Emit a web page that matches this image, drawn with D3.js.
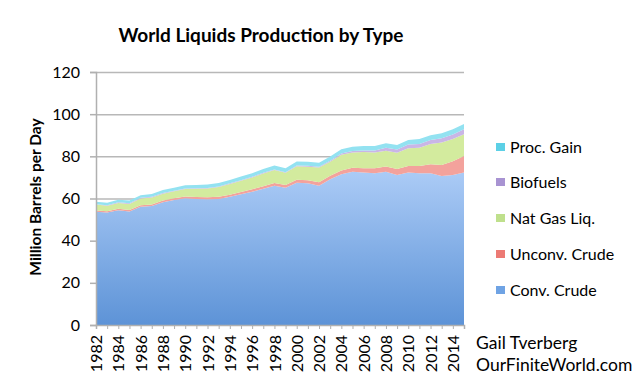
<!DOCTYPE html>
<html>
<head>
<meta charset="utf-8">
<script src="https://cdn.jsdelivr.net/npm/d3@7"></script>
<style>
  body { margin: 0; background: #fff; }
  svg { display: block; font-family: Lato, "Open Sans", sans-serif; }
</style>
</head>
<body>
<svg id="chart" width="640" height="384"></svg>
<script>
// 연도 (1982 ~ 2015)
const years = d3.range(1982, 2016);

// 계열 값 (백만 배럴/일), 그림에서 읽은 값
const convCrude = [53.7, 53.4, 54.4, 53.8, 56.1, 56.4, 58.2, 59.3, 60.1, 59.8, 59.7, 59.8,
  60.8, 62.0, 63.2, 64.6, 66.0, 65.1, 67.5, 67.2, 66.1, 69.1, 71.5, 72.7, 72.3, 72.0,
  72.7, 71.2, 72.3, 72.0, 72.0, 70.7, 71.2, 72.3];
const unconvCrude = [0.6, 0.6, 0.7, 0.7, 0.7, 0.8, 0.8, 0.8, 0.9, 0.9, 0.9, 1.0,
  1.0, 1.1, 1.2, 1.2, 1.3, 1.3, 1.4, 1.5, 1.6, 1.7, 1.8, 1.9, 2.1, 2.3,
  2.5, 2.8, 3.1, 3.4, 4.2, 5.2, 6.5, 7.8];
const natGasLiq = [2.8, 2.6, 2.8, 2.9, 3.2, 3.3, 3.3, 3.3, 3.5, 3.9, 4.1, 4.6,
  5.1, 5.3, 5.6, 6.1, 6.2, 5.8, 6.4, 6.4, 7.0, 6.6, 7.4, 7.2, 7.6, 7.5,
  7.5, 7.7, 8.4, 8.7, 9.7, 10.7, 10.5, 10.4];
const biofuels = [0.2, 0.2, 0.3, 0.3, 0.3, 0.3, 0.3, 0.3, 0.3, 0.3, 0.3, 0.3,
  0.3, 0.3, 0.3, 0.3, 0.3, 0.3, 0.3, 0.4, 0.4, 0.5, 0.6, 0.7, 0.8, 1.0,
  1.4, 1.5, 1.8, 1.8, 1.8, 2.0, 2.2, 2.3];
const procGain = [1.2, 1.2, 1.2, 1.3, 1.3, 1.3, 1.4, 1.4, 1.5, 1.5, 1.6, 1.6,
  1.6, 1.7, 1.7, 1.8, 1.8, 1.8, 1.9, 1.9, 1.9, 2.0, 2.1, 2.1, 2.1, 2.1,
  2.1, 2.2, 2.2, 2.3, 2.3, 2.3, 2.4, 2.5];

const seriesNames = ['Conv. Crude', 'Unconv. Crude', 'Nat Gas Liq.', 'Biofuels', 'Proc. Gain'];
const seriesValues = [convCrude, unconvCrude, natGasLiq, biofuels, procGain];
const yTicks = [0, 20, 40, 60, 80, 100, 120];

// 색상 (면 / 범례)
const fills = ['url(#gradConv)', '#f3a29c', '#d3eb9e', '#c9b6e6', '#93e2f1'];
const swatches = ['#6fa3e4', '#ec7a74', '#bfe08c', '#a893d2', '#5cd0e6'];

const svg = d3.select('#chart');
const x = d3.scaleLinear().domain([1982, 2015]).range([96, 464]);
const y = d3.scaleLinear().domain([0, 120]).range([325, 72]);

// 그라디언트
const defs = svg.append('defs');
const g1 = defs.append('linearGradient').attr('id', 'gradConv')
  .attr('x1', 0).attr('y1', 0).attr('x2', 0).attr('y2', 1);
g1.append('stop').attr('offset', '0%').attr('stop-color', '#abcbf6');
g1.append('stop').attr('offset', '100%').attr('stop-color', '#5d93d7');

// 스택 데이터
const table = years.map((yr, i) => {
  const row = { year: yr };
  seriesNames.forEach((n, k) => { row[n] = seriesValues[k][i]; });
  return row;
});
const stacked = d3.stack().keys(seriesNames)(table);

// 그리드
svg.append('g')
  .attr('transform', 'translate(96,0)')
  .call(d3.axisLeft(y).tickValues(yTicks.slice(1)).tickSize(-(464 - 96)).tickFormat(''))
  .call(g => g.select('.domain').remove())
  .call(g => g.selectAll('line').attr('stroke', '#b8b8b8').attr('stroke-width', 1.5));

// 면적
const area = d3.area()
  .x(d => x(d.data.year))
  .y0(d => y(d[0]))
  .y1(d => y(d[1]));

svg.append('g').selectAll('path')
  .data(stacked)
  .join('path')
  .attr('d', area)
  .attr('fill', (d, i) => fills[i]);

// Y축
svg.append('g')
  .attr('transform', 'translate(96,0)')
  .call(d3.axisLeft(y).tickValues(yTicks).tickSize(6).tickPadding(10))
  .call(g => g.select('.domain').attr('stroke', '#b0b0b0').attr('stroke-width', 1.5))
  .call(g => g.selectAll('line').attr('stroke', '#b0b0b0').attr('stroke-width', 1.5))
  .call(g => g.selectAll('text').attr('font-size', 16).attr('fill', '#000')
    .attr('font-family', 'Lato, sans-serif'));

// X축
const xAxis = svg.append('g')
  .attr('transform', 'translate(0,325)')
  .call(d3.axisBottom(x).tickValues(years).tickSize(4)
    .tickFormat(d => d % 2 === 0 ? d : ''))
  .call(g => g.select('.domain').attr('stroke', '#b0b0b0').attr('stroke-width', 1.5))
  .call(g => g.selectAll('line').attr('stroke', '#b0b0b0').attr('stroke-width', 1));
xAxis.selectAll('text')
  .attr('font-size', 16)
  .attr('fill', '#000')
  .attr('font-family', 'Lato, sans-serif')
  .attr('transform', 'rotate(-90)')
  .attr('text-anchor', 'end')
  .attr('dy', '0.35em')
  .attr('y', 0)
  .attr('x', -10);

// 제목
svg.append('text')
  .attr('x', 261).attr('y', 42)
  .attr('text-anchor', 'middle')
  .attr('font-size', 19).attr('font-weight', 'bold')
  .text('World Liquids Production by Type');

// Y축 제목
svg.append('text')
  .attr('transform', 'translate(41,197) rotate(-90)')
  .attr('text-anchor', 'middle')
  .attr('font-size', 15.5).attr('font-weight', 'bold')
  .text('Million Barrels per Day');

// 범례 (위에서 아래로: Proc. Gain ... Conv. Crude)
const legendY = [290, 254, 218, 182, 147];
const legend = svg.append('g').selectAll('g')
  .data(seriesNames)
  .join('g')
  .attr('transform', (d, i) => `translate(496,${legendY[i]})`);
legend.append('rect')
  .attr('x', 0).attr('y', -4).attr('width', 9).attr('height', 8)
  .attr('fill', (d, i) => swatches[i]);
legend.append('text')
  .attr('x', 14).attr('y', 0).attr('dy', '0.35em')
  .attr('font-size', 16)
  .text(d => d);

// 출처
svg.append('text').attr('x', 476).attr('y', 349).attr('font-size', 17.5).text('Gail Tverberg');
svg.append('text').attr('x', 476).attr('y', 371).attr('font-size', 17.5).text('OurFiniteWorld.com');
</script>
</body>
</html>
